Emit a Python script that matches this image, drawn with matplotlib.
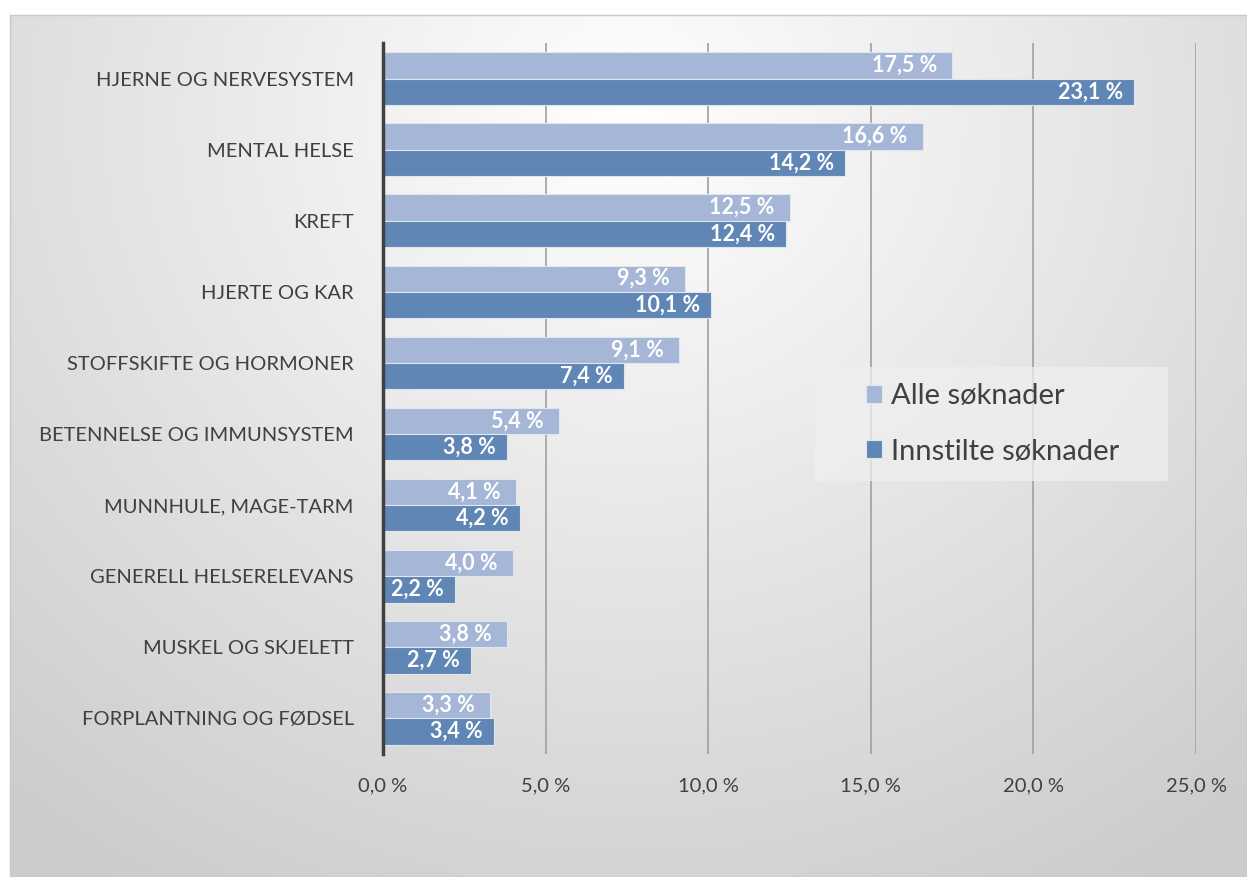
import matplotlib.pyplot as plt
from matplotlib.patches import Rectangle
import numpy as np

categories = ['HJERNE OG NERVESYSTEM', 'MENTAL HELSE', 'KREFT', 'HJERTE OG KAR',
              'STOFFSKIFTE OG HORMONER', 'BETENNELSE OG IMMUNSYSTEM',
              'MUNNHULE, MAGE-TARM', 'GENERELL HELSERELEVANS',
              'MUSKEL OG SKJELETT', 'FORPLANTNING OG FØDSEL']
alle = [17.5, 16.6, 12.5, 9.3, 9.1, 5.4, 4.1, 4.0, 3.8, 3.3]
innstilte = [23.1, 14.2, 12.4, 10.1, 7.4, 3.8, 4.2, 2.2, 2.7, 3.4]
xticks = [0, 5, 10, 15, 20, 25]

plt.rcParams['font.family'] = ['Lato', 'DejaVu Sans']

W, H = 1247, 877
fig = plt.figure(figsize=(W / 100, H / 100), dpi=100)
fig.patch.set_facecolor('white')

# radial gradient background for the chart area
bg = fig.add_axes([10 / W, 0, 1 - 10 / W, 1 - 15 / H], zorder=0)
gx, gy = np.meshgrid(np.linspace(0, 1, 400), np.linspace(0, 1, 300))
r = np.sqrt(((gx - 0.5) * 1.0) ** 2 + ((gy - 0.12) * 0.75) ** 2)
r = np.clip(r / 0.78, 0, 1)
shade = 1.0 - 0.20 * r
bg.imshow(np.dstack([shade, shade, shade]), extent=[0, 1, 0, 1], origin='upper',
          aspect='auto', interpolation='bilinear')
for s in bg.spines.values():
    s.set_color('#c8c8c8')
    s.set_linewidth(1)
bg.set_xticks([])
bg.set_yticks([])

ax = fig.add_axes([383 / W, 1 - 754 / H, (1196 - 383) / W, (754 - 43) / H], zorder=1)
ax.patch.set_alpha(0)

y = np.arange(len(categories))
h = 0.37
ax.barh(y - h / 2, alle, height=h, color='#a5b6d6', edgecolor='#dfe6f0',
        linewidth=0.8, label='Alle søknader', zorder=3)
ax.barh(y + h / 2, innstilte, height=h, color='#5f86b5', edgecolor='#dfe6f0',
        linewidth=0.8, label='Innstilte søknader', zorder=3)

for yi, v in zip(y, alle):
    ax.annotate(f'{v:.1f} %'.replace('.', ','), (v, yi - h / 2), xytext=(-11, 0),
                textcoords='offset points', ha='right', va='center',
                color='white', fontsize=15.5, fontweight='bold', zorder=4)
for yi, v in zip(y, innstilte):
    ax.annotate(f'{v:.1f} %'.replace('.', ','), (v, yi + h / 2), xytext=(-8, 0),
                textcoords='offset points', ha='right', va='center',
                color='white', fontsize=15.5, fontweight='bold', zorder=4)

ax.set_xlim(0, 25)
ax.set_ylim(len(categories) - 0.5, -0.5)
ax.set_xticks(xticks)
ax.set_xticklabels([f'{t:.1f} %'.replace('.', ',') for t in xticks],
                   fontsize=14.5, color='#404040')
ax.set_yticks(y)
ax.set_yticklabels(categories, fontsize=14.5, color='#404040')
ax.tick_params(axis='both', length=0)
ax.tick_params(axis='x', pad=17)
ax.tick_params(axis='y', pad=21)
ax.grid(axis='x', color='#a0a0a0', linewidth=1.2, zorder=0)
ax.set_axisbelow(True)
for k in ['top', 'right', 'bottom']:
    ax.spines[k].set_visible(False)
ax.spines['left'].set_color('#404040')
ax.spines['left'].set_linewidth(2.5)
ax.spines['left'].set_zorder(5)

# legend box (drawn separately for the wide padding)
aw, ah = 1196 - 383, 754 - 43
ax.add_patch(Rectangle(((815 - 383) / aw, (754 - 481) / ah), (1168 - 815) / aw, (481 - 367) / ah,
                       transform=ax.transAxes, facecolor='#efefef', alpha=0.75,
                       edgecolor='none', zorder=6, clip_on=False))
leg = ax.legend(loc='center left', bbox_to_anchor=((866 - 383) / aw, (754 - 424) / ah),
                fontsize=21, frameon=False, handlelength=0.55,
                handleheight=0.55, handletextpad=0.3, labelspacing=1.0,
                borderpad=0, borderaxespad=0, labelcolor='#404040')
leg.set_zorder(7)

fig.savefig('out.png', dpi=100)
